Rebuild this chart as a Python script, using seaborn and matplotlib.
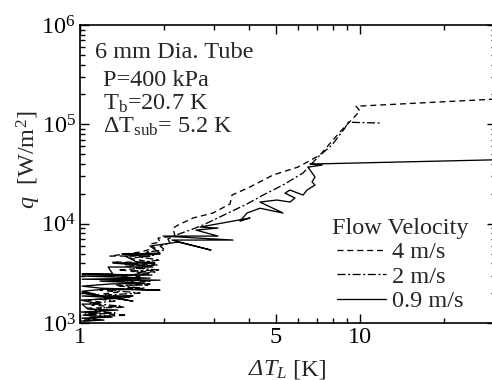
import numpy as np
import pandas as pd
import matplotlib
matplotlib.use("Agg")
import matplotlib.pyplot as plt
import matplotlib.ticker as mticker
import seaborn as sns

# ---- data (dT_L [K], q [W/m2]) ----
dt_4ms = [1.034, 1.131, 1.068, 1.472, 1.086, 1.228, 1.051, 1.448, 1.104, 1.179,
          1.068, 1.28, 1.131, 1.366, 1.179, 1.572, 1.334, 1.748, 1.448, 1.778,
          1.389, 1.638, 1.485, 1.853, 1.366, 1.707, 1.448, 1.899, 1.301, 1.778,
          1.509, 1.778, 1.28, 1.638, 1.853, 1.778, 1.931, 1.899, 2.184, 2.148,
          2.24, 2.532, 2.985, 3.433, 3.49, 4.047, 4.893, 6.0, 7.197, 8.483,
          10.0, 9.68, 31.0]
q_4ms = [1.07e3, 1.095e3, 1.145e3, 1.20e3, 1.26e3, 1.32e3, 1.41e3, 1.44e3, 1.51e3, 1.62e3,
         1.70e3, 1.78e3, 1.91e3, 2.05e3, 2.14e3, 2.24e3, 2.41e3, 2.41e3, 2.52e3, 2.64e3,
         2.76e3, 2.90e3, 3.04e3, 3.26e3, 3.41e3, 3.57e3, 3.74e3, 3.83e3, 4.10e3, 4.10e3,
         4.50e3, 4.72e3, 4.72e3, 5.18e3, 5.68e3, 6.23e3, 6.53e3, 7.16e3, 7.50e3, 9.03e3,
         9.68e3, 1.14e4, 1.28e4, 1.58e4, 1.94e4, 2.34e4, 3.09e4, 3.71e4, 4.91e4, 8.39e4,
         1.36e5, 1.52e5, 1.80e5]

dt_2ms = [1.025, 1.179, 1.086, 1.28, 1.042, 1.334, 1.131, 1.179, 1.389, 1.086,
          1.334, 1.179, 1.509, 1.228, 1.638, 1.28, 1.707, 1.389, 1.778, 1.509,
          1.638, 1.389, 1.778, 1.509, 1.931, 1.572, 1.778, 1.448, 1.931, 1.638,
          1.853, 1.707, 2.012, 1.931, 2.096, 2.06, 2.2, 2.471, 2.749, 3.162,
          3.95, 4.505, 5.31, 6.26, 7.08, 7.94, 8.84, 9.06, 11.79]
q_2ms = [1.045e3, 1.07e3, 1.12e3, 1.17e3, 1.23e3, 1.26e3, 1.32e3, 1.41e3, 1.48e3, 1.58e3,
         1.66e3, 1.74e3, 1.82e3, 1.91e3, 2.00e3, 2.14e3, 2.24e3, 2.35e3, 2.47e3, 2.58e3,
         2.76e3, 2.97e3, 3.11e3, 3.33e3, 3.41e3, 3.57e3, 3.74e3, 3.92e3, 4.30e3, 4.61e3,
         4.83e3, 5.18e3, 5.42e3, 5.95e3, 6.38e3, 7.0e3, 7.68e3, 8.62e3, 9.68e3, 1.17e4,
         1.58e4, 1.94e4, 2.45e4, 3.24e4, 4.69e4, 6.19e4, 9.20e4, 1.05e5, 1.03e5]

dt_09ms = [1.008, 1.218, 1.017, 1.301, 1.025, 1.16, 1.008, 1.366, 1.068, 1.017,
           1.179, 1.008, 1.436, 1.017, 1.546, 1.28, 1.546, 1.017, 1.14, 1.017,
           1.228, 1.931, 1.189, 1.017, 1.28, 1.707, 1.179, 1.931, 1.017, 1.778,
           1.017, 1.807, 1.017, 1.31, 1.26, 1.822, 1.638, 1.31, 1.853, 1.598,
           1.448, 1.931, 1.412, 1.931, 1.778, 2.24, 2.937, 2.131, 3.518, 1.98,
           3.11, 2.596, 3.11, 2.683, 4.047, 3.728, 3.95, 4.394, 5.31, 4.394,
           5.05, 5.623, 5.859, 5.397, 5.623, 6.26, 6.47, 6.907, 6.74, 6.907,
           6.629, 6.52, 7.32, 6.629, 31.0]
q_09ms = [1.045e3, 1.07e3, 1.12e3, 1.145e3, 1.20e3, 1.26e3, 1.29e3, 1.35e3, 1.38e3, 1.55e3,
          1.55e3, 1.70e3, 1.78e3, 1.87e3, 1.87e3, 1.82e3, 1.66e3, 2.00e3, 1.95e3, 2.09e3,
          2.19e3, 2.14e3, 2.24e3, 2.35e3, 2.47e3, 2.52e3, 2.64e3, 2.70e3, 2.76e3, 2.83e3,
          2.97e3, 3.04e3, 3.11e3, 3.11e3, 3.66e3, 3.66e3, 3.83e3, 4.01e3, 4.01e3, 4.10e3,
          4.72e3, 4.94e3, 4.94e3, 5.06e3, 5.95e3, 6.53e3, 5.42e3, 6.84e3, 6.84e3, 7.50e3,
          7.50e3, 8.62e3, 9.03e3, 9.24e3, 1.14e4, 1.06e4, 1.28e4, 1.43e4, 1.28e4, 1.65e4,
          1.73e4, 1.65e4, 1.81e4, 2.03e4, 2.18e4, 1.94e4, 2.18e4, 2.45e4, 2.63e4, 2.95e4,
          3.47e4, 3.71e4, 3.89e4, 3.98e4, 4.40e4]

labels = ["4 m/s", "2 m/s", "0.9 m/s"]

# ---- style ----
sns.set_style("ticks")
plt.rcParams["font.family"] = ["Liberation Serif", "DejaVu Serif"]
plt.rcParams["mathtext.fontset"] = "custom"
plt.rcParams["mathtext.rm"] = "Liberation Serif"
plt.rcParams["mathtext.it"] = "Liberation Serif:italic"
fs = 17.5

fig = plt.figure(figsize=(4.92, 3.80), dpi=100)
ax = fig.add_axes([80 / 492, 57 / 380, 416 / 492, 298 / 380])

series = [
    (dt_4ms, q_4ms, (0, (4.5, 3))),
    (dt_2ms, q_2ms, (0, (6, 2, 1.5, 2))),
    (dt_09ms, q_09ms, "-"),
]
for (xs, ys, ls), lab in zip(series, labels):
    sns.lineplot(x=xs, y=ys, sort=False, estimator=None, color="black",
                 linewidth=0.95, linestyle=ls, label=lab, ax=ax)

ax.set_xscale("log")
ax.set_yscale("log")
ax.set_xlim(1, 30.6)
ax.set_ylim(1e3, 1e6)

ax.set_xticks([1, 5, 10])
ax.set_xticklabels(["1", "5", "10"])
ax.xaxis.set_minor_locator(mticker.LogLocator(base=10, subs=np.arange(2, 10), numticks=20))
ax.xaxis.set_minor_formatter(mticker.NullFormatter())
ax.yaxis.set_major_locator(mticker.LogLocator(base=10, numticks=10))
ax.yaxis.set_minor_locator(mticker.LogLocator(base=10, subs=np.arange(2, 10), numticks=20))
ax.yaxis.set_minor_formatter(mticker.NullFormatter())

for sp in ax.spines.values():
    sp.set_linewidth(1.2)
    sp.set_color("black")
ax.tick_params(which="both", direction="in", top=True, right=True, colors="black",
               labelsize=fs, width=1.0)
ax.tick_params(which="major", length=6.5, pad=3)
ax.tick_params(which="minor", length=3.5)
ax.set_xlabel("")
ax.set_ylabel("")

# axis labels (italic symbol, upright unit)
fig.text(287 / 492, 1 - 370 / 380, "ΔT$_L$", fontsize=fs, style="italic",
         ha="right", va="center")
fig.text(287 / 492, 1 - 370 / 380, " [K]", fontsize=fs, ha="left", va="center")
fig.text(29 / 492, 1 - 160 / 380, r"$\mathit{q}$  [W/m$^2$]", fontsize=fs,
         rotation=90, ha="center", va="center")

# annotations
fig.text(95 / 492, 1 - 58 / 380, "6 mm Dia. Tube", fontsize=fs, va="baseline")
fig.text(103 / 492, 1 - 86 / 380, "P=400 kPa", fontsize=fs, va="baseline")
fig.text(103 / 492, 1 - 110 / 380, r"T$_\mathrm{b}$=20.7 K", fontsize=fs, va="baseline")
fig.text(103 / 492, 1 - 133 / 380, r"ΔT$_\mathrm{sub}$= 5.2 K", fontsize=fs, va="baseline")

leg = ax.legend(title="Flow Velocity", loc="upper left",
                bbox_to_anchor=(332 / 492, 1 - 218 / 380), bbox_transform=fig.transFigure,
                frameon=False, fontsize=fs, title_fontsize=fs, borderpad=0,
                borderaxespad=0, handlelength=2.05, handletextpad=0.25,
                labelspacing=0.1)

fig.savefig("out.png", dpi=100)
